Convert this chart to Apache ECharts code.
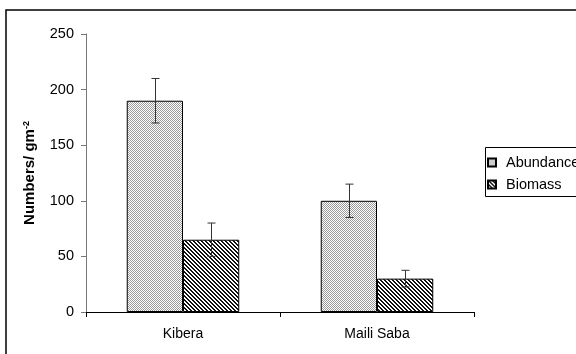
<!DOCTYPE html>
<html><head><meta charset="utf-8">
<script src="https://cdn.jsdelivr.net/npm/echarts@6/dist/echarts.min.js"></script>
<style>html,body{margin:0;padding:0;background:#fff}#c{width:576px;height:354px}</style>
</head><body><div id="c"></div>
<script>
var categories = ['Kibera', 'Maili Saba'];
var seriesNames = ['Abundance', 'Biomass'];
var abundance = [190, 100];
var abundanceErr = [20, 15];
var biomass = [65, 30];
var biomassErr = [15, 7.5];
var yTicks = [0, 50, 100, 150, 200, 250];

function makePattern(kind) {
  var c = document.createElement('canvas');
  c.width = 4; c.height = 4;
  var ctx = c.getContext('2d');
  ctx.fillStyle = '#ffffff'; ctx.fillRect(0, 0, 4, 4);
  for (var x = 0; x < 4; x++) for (var y = 0; y < 4; y++) {
    var on;
    if (kind === 'dots') on = ((x + y) % 2 === 0);
    else on = (((x - y) % 4 + 4) % 4) < 2;
    if (on) { ctx.fillStyle = kind === 'dots' ? '#9a9a9a' : '#111111'; ctx.fillRect(x, y, 1, 1); }
  }
  return c;
}
var patA = { image: makePattern('dots'), repeat: 'repeat' };
var patB = { image: makePattern('diag'), repeat: 'repeat' };

var FONT = 'Liberation Sans, Arial, sans-serif';
var catGap = 0.42;
function errSeries(name, vals, errs, idx) {
  return {
    type: 'custom', name: name + ' err', silent: true, z: 5,
    data: vals.map(function (v, i) { return [i, v - errs[i], v + errs[i]]; }),
    renderItem: function (params, api) {
      var i = api.value(0);
      var band = api.size([1, 0])[0];
      var bw = band * (1 - catGap) / 2;
      var off = (idx === 0 ? -0.5 : 0.5) * bw;
      var lo = api.coord([i, api.value(1)]);
      var hi = api.coord([i, api.value(2)]);
      var x = Math.round(lo[0] + off) + 0.5;
      var cap = 4;
      var st = { stroke: '#333', lineWidth: 1 };
      return { type: 'group', children: [
        { type: 'line', shape: { x1: x, y1: lo[1], x2: x, y2: hi[1] }, style: st },
        { type: 'line', shape: { x1: x - cap, y1: lo[1], x2: x + cap, y2: lo[1] }, style: st },
        { type: 'line', shape: { x1: x - cap, y1: hi[1], x2: x + cap, y2: hi[1] }, style: st }
      ]};
    }
  };
}

var chart = echarts.init(document.getElementById('c'), null, { renderer: 'canvas' });
chart.setOption({
  animation: false,
  textStyle: { fontFamily: FONT },
  grid: { left: 86, right: 102, top: 34, bottom: 42 },
  graphic: [
    { type: 'rect', shape: { x: 6, y: 10, width: 700, height: 500 }, style: { fill: null, stroke: '#000', lineWidth: 1.5 }, silent: true, z: 0 },
    { type: 'rect', shape: { x: 485.5, y: 147.5, width: 200, height: 49 }, style: { fill: '#fff', stroke: '#000', lineWidth: 1 }, silent: true, z: 0 }
  ],
  legend: {
    orient: 'vertical', left: 487, top: 155, padding: 0,
    itemWidth: 8, itemHeight: 8, itemGap: 7, icon: 'rect',
    data: seriesNames,
    textStyle: { fontSize: 14.5, color: '#000', fontFamily: FONT, padding: [0, 0, 0, 5] }
  },
  xAxis: {
    type: 'category', data: categories,
    axisLine: { lineStyle: { color: '#000', width: 1 } },
    axisTick: { show: true, length: 5, interval: 0, lineStyle: { color: '#000' } },
    axisLabel: { fontSize: 14, color: '#000', margin: 15 },
    splitLine: { show: false }
  },
  yAxis: {
    type: 'value', min: 0, max: 250, interval: 50,
    name: '{a|Numbers/ gm}{b|-2}',
    nameLocation: 'middle', nameGap: 48, nameRotate: 90,
    nameTextStyle: { rich: {
      a: { fontSize: 15, fontWeight: 'bold', color: '#000', fontFamily: FONT },
      b: { fontSize: 9, fontWeight: 'bold', color: '#000', verticalAlign: 'top', padding: [0, 0, 7, 0], fontFamily: FONT }
    } },
    axisLine: { show: true, lineStyle: { color: '#777', width: 1 } },
    axisTick: { show: true, length: 5, lineStyle: { color: '#777' } },
    axisLabel: { fontSize: 14.5, color: '#000', margin: 12, formatter: function (v) { return yTicks.indexOf(v) >= 0 ? String(v) : ''; } },
    splitLine: { show: false }
  },
  series: [
    { type: 'bar', name: seriesNames[0], data: abundance, barGap: '0%', barCategoryGap: (catGap * 100) + '%',
      itemStyle: { color: patA, borderColor: '#000', borderWidth: 1 } },
    { type: 'bar', name: seriesNames[1], data: biomass, barGap: '0%', barCategoryGap: (catGap * 100) + '%',
      itemStyle: { color: patB, borderColor: '#000', borderWidth: 1 } },
    errSeries(seriesNames[0], abundance, abundanceErr, 0),
    errSeries(seriesNames[1], biomass, biomassErr, 1)
  ]
});
</script></body></html>
